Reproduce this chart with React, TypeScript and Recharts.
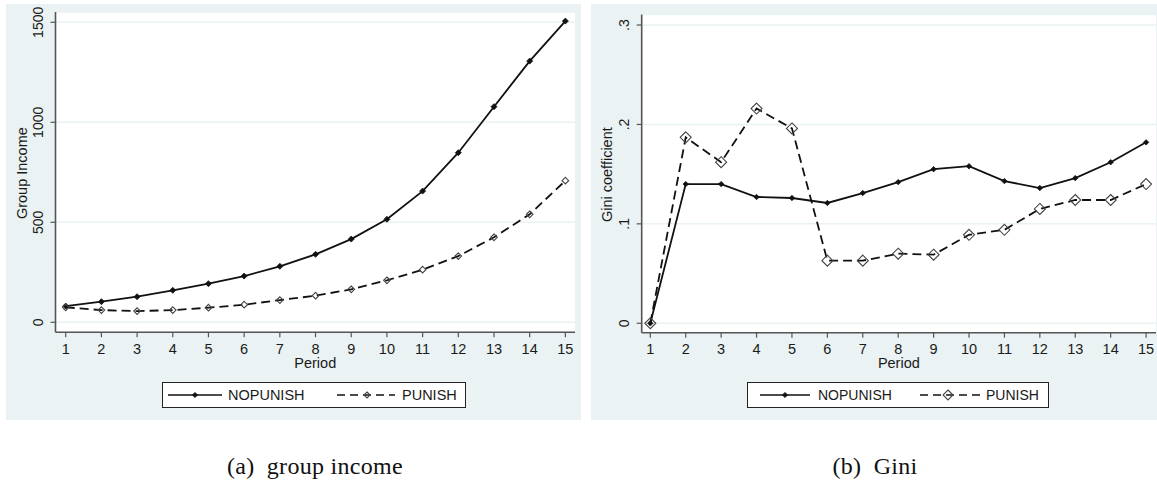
import React from "react";
import { LineChart, Line, XAxis, YAxis, CartesianGrid } from "recharts";

const periods = [1, 2, 3, 4, 5, 6, 7, 8, 9, 10, 11, 12, 13, 14, 15];
const incomeNopunish = [81, 103, 128, 160, 193, 231, 280, 340, 416, 515, 656, 848, 1078, 1306, 1506];
const incomePunish = [75, 61, 56, 61, 73, 88, 111, 133, 165, 210, 263, 331, 425, 540, 708];
const giniNopunish = [0, 0.14, 0.14, 0.127, 0.126, 0.121, 0.131, 0.142, 0.155, 0.158, 0.143, 0.136, 0.146, 0.162, 0.182];
const giniPunish = [0, 0.187, 0.162, 0.216, 0.196, 0.063, 0.063, 0.07, 0.069, 0.089, 0.094, 0.115, 0.124, 0.124, 0.14];
const incomeTicks = [0, 500, 1000, 1500];
const giniTicks = [0, 0.1, 0.2, 0.3];
const giniTickLabels = ["0", ".1", ".2", ".3"];

const incomeData = periods.map((p, i) => ({ period: p, nopunish: incomeNopunish[i], punish: incomePunish[i] }));
const giniData = periods.map((p, i) => ({ period: p, nopunish: giniNopunish[i], punish: giniPunish[i] }));

const BG = "#eaf2f3";
const AXIS = "#555";
const INK = "#1a1a1a";
const SANS = "Liberation Sans";

function FilledDot(props: any) {
  const { cx, cy, r } = props;
  if (cx == null || cy == null) return null;
  return <path d={`M${cx},${cy - r}L${cx + r},${cy}L${cx},${cy + r}L${cx - r},${cy}Z`} fill="#111" stroke="#111" strokeWidth={0.8} />;
}

function HollowDiamond(props: any) {
  const { cx, cy, r } = props;
  if (cx == null || cy == null) return null;
  return <path d={`M${cx},${cy - r}L${cx + r},${cy}L${cx},${cy + r}L${cx - r},${cy}Z`} fill="none" stroke="#444" strokeWidth={1.1} />;
}

function RotTick(props: any) {
  const { x, y, payload, labels, values } = props;
  const bx = x - 7.5;
  const idx = values.indexOf(payload.value);
  const txt = idx >= 0 ? labels[idx] : String(payload.value);
  return (
    <text x={bx} y={y} transform={`rotate(-90 ${bx} ${y})`} textAnchor="middle" fontSize={14} fill={INK} fontFamily={SANS}>
      {txt}
    </text>
  );
}

function YTitle(props: any) {
  const { viewBox, value } = props;
  const cy = viewBox.y + viewBox.height / 2 + 1;
  const bx = 21;
  return (
    <text x={bx} y={cy} transform={`rotate(-90 ${bx} ${cy})`} textAnchor="middle" fontSize={14.5} fill={INK} fontFamily={SANS}>
      {value}
    </text>
  );
}

function LegendBox({ left, top, width, fontSize, dRadius, pos }: any) {
  return (
    <div
      style={{
        position: "absolute",
        left,
        top,
        width,
        height: 26,
        background: "#fff",
        border: "1px solid #222",
        boxSizing: "border-box",
      }}
    >
      <svg width={width} height={26} style={{ position: "absolute", left: -1, top: -1 }}>
        <line x1={pos[0]} x2={pos[1]} y1={13} y2={13} stroke="#111" strokeWidth={1.6} />
        <FilledDot cx={(pos[0] + pos[1]) / 2} cy={13} r={2.6} />
        <text x={pos[2]} y={13} dominantBaseline="central" fontSize={fontSize} fill={INK} fontFamily={SANS}>
          NOPUNISH
        </text>
        <line x1={pos[3]} x2={pos[4]} y1={13} y2={13} stroke="#111" strokeWidth={1.6} strokeDasharray="8 5" />
        <HollowDiamond cx={pos[5]} cy={13} r={dRadius} />
        <text x={pos[6]} y={13} dominantBaseline="central" fontSize={fontSize} fill={INK} fontFamily={SANS}>
          PUNISH
        </text>
      </svg>
    </div>
  );
}

function Panel(props: any) {
  const {
    left, width, data, yDomain, xDomain, yTicks, yLabels, yTitle, margin, yWidth, xHeight,
    dotR, diamondR, legend,
  } = props;
  return (
    <div style={{ position: "absolute", left, top: 4, width, height: 416, background: BG }}>
      <LineChart width={width} height={416} data={data} margin={margin}>
        <CartesianGrid horizontal vertical={false} fill="#fff" stroke={BG} strokeWidth={1.5} />
        <XAxis
          type="number"
          dataKey="period"
          domain={xDomain}
          ticks={periods}
          allowDataOverflow
          height={xHeight}
          interval={0}
          tickSize={5}
          tickMargin={6}
          axisLine={{ stroke: AXIS, strokeWidth: 1.6 }}
          tickLine={{ stroke: AXIS, strokeWidth: 1.2 }}
          tick={{ fill: INK, fontSize: 14.5, fontFamily: SANS }}
          label={{ value: "Period", position: "insideTop", offset: 25, fill: INK, fontSize: 14.5, fontFamily: SANS }}
        />
        <YAxis
          type="number"
          domain={yDomain}
          ticks={yTicks}
          allowDataOverflow
          width={yWidth}
          tickSize={5}
          tickMargin={0}
          interval={0}
          axisLine={{ stroke: AXIS, strokeWidth: 1.6 }}
          tickLine={{ stroke: AXIS, strokeWidth: 1.2 }}
          tick={<RotTick labels={yLabels} values={yTicks} />}
          label={<YTitle value={yTitle} />}
        />
        <Line
          dataKey="nopunish"
          stroke="#111"
          strokeWidth={1.8}
          isAnimationActive={false}
          dot={(p: any) => <FilledDot key={`n${p.index}`} cx={p.cx} cy={p.cy} r={dotR} />}
          activeDot={false}
        />
        <Line
          dataKey="punish"
          stroke="#111"
          strokeWidth={1.8}
          strokeDasharray="9 5"
          isAnimationActive={false}
          dot={(p: any) => <HollowDiamond key={`p${p.index}`} cx={p.cx} cy={p.cy} r={diamondR} />}
          activeDot={false}
        />
      </LineChart>
      <LegendBox {...legend} />
    </div>
  );
}

const captionStyle: React.CSSProperties = {
  position: "absolute",
  top: 453,
  width: 400,
  textAlign: "center",
  fontFamily: "Liberation Serif",
  fontSize: 24,
  letterSpacing: 0.3,
  color: "#111",
};

export default function App() {
  return (
    <div style={{ position: "absolute", left: 0, top: 0, width: 1157, height: 484, background: "#fff", overflow: "hidden" }}>
      <Panel
        left={6}
        width={575}
        data={incomeData}
        yDomain={[-50, 1551.5]}
        xDomain={[0.714, 15.27]}
        yTicks={incomeTicks}
        yLabels={incomeTicks.map(String)}
        yTitle="Group Income"
        margin={{ top: 8, right: 6, bottom: 0, left: 0 }}
        yWidth={49.5}
        xHeight={87.7}
        dotR={3}
        diamondR={3.3}
        legend={{ left: 156, top: 378, width: 304, fontSize: 14.5, dRadius: 3, pos: [6, 60, 66, 175, 233, 205, 240] }}
      />
      <Panel
        left={591}
        width={566}
        data={giniData}
        yDomain={[-0.0095, 0.3105]}
        xDomain={[0.757, 15.28]}
        yTicks={giniTicks}
        yLabels={giniTickLabels}
        yTitle="Gini coefficient"
        margin={{ top: 10.6, right: 1, bottom: 0, left: 0 }}
        yWidth={50.7}
        xHeight={87.3}
        dotR={2.7}
        diamondR={5.5}
        legend={{ left: 156, top: 378, width: 302, fontSize: 14, dRadius: 5, pos: [13, 63, 71, 173, 235, 201, 239] }}
      />
      <div style={{ ...captionStyle, left: 115 }}>
        <span style={{ marginRight: 6 }}>(a)</span> group income
      </div>
      <div style={{ ...captionStyle, left: 675 }}>
        <span style={{ marginRight: 6 }}>(b)</span> Gini
      </div>
    </div>
  );
}
